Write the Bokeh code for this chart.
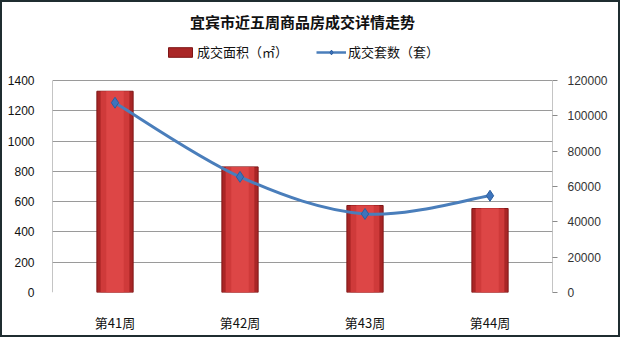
from bokeh.plotting import figure
from bokeh.models import Range1d, LinearAxis, FixedTicker, Legend, LegendItem, ColumnDataSource, BasicTickFormatter
from bokeh.embed import file_html
from bokeh.resources import INLINE

weeks = ["第41周", "第42周", "第43周", "第44周"]
area = [1330, 830, 575, 555]
units = [107500, 65500, 44500, 54800]
left_ticks = [0, 200, 400, 600, 800, 1000, 1200, 1400]
right_ticks = [0, 20000, 40000, 60000, 80000, 100000, 120000]

xs = list(range(1, len(weeks) + 1))
FONT = "Noto Sans CJK SC"

W, H = 620, 337
BL, BR, BT, BB = 50, 70, 30, 47
FH = H - BT - BB            # frame height (includes legend strip)
VIS_TOP = 74                # y (px) of visible plot top within figure
VIS_H = H - BB - VIS_TOP    # visible plot height
scale = FH / VIS_H
lmax = max(left_ticks)
rmax = max(right_ticks)

p = figure(width=W, height=H, output_backend="svg", toolbar_location=None,
           x_range=Range1d(0.5, len(xs) + 0.5), y_range=Range1d(0, lmax * scale),
           min_border_left=BL, min_border_right=BR, min_border_top=BT, min_border_bottom=BB)
p.styles = {"border": "2px solid #1f2d30"}
p.extra_y_ranges = {"right": Range1d(0, rmax * scale)}

p.title.text = "宜宾市近五周商品房成交详情走势"
p.title.align = "center"
p.title.text_font = FONT
p.title.text_font_size = "15px"
p.title.text_font_style = "bold"
p.title.text_color = "#111111"
p.title.standoff = 12

p.outline_line_color = None
p.background_fill_color = "white"
p.xgrid.grid_line_color = None
p.ygrid.grid_line_color = "#9a9a9a"
p.ygrid.ticker = FixedTicker(ticks=left_ticks)

# plot-area side borders
xl, xr = p.x_range.start, p.x_range.end
p.segment(x0=[xl, xr], y0=[0, 0], x1=[xl, xr], y1=[lmax, lmax], line_color="#8a8a8a", line_width=1)

# bars (layered for shading)
src = ColumnDataSource(dict(x=xs, area=area))
bar = p.vbar(x="x", top="area", width=0.29, source=src, fill_color="#a92626", line_color="#7e1616")
p.vbar(x="x", top="area", width=0.23, source=src, fill_color="#cf3a3a", line_color=None)
p.vbar(x="x", top="area", width=0.14, source=src, fill_color="#dd4646", line_color=None)

# smooth line through the unit counts on the right axis
n = len(xs)
x0, y0, x1, y1, cx0, cy0, cx1, cy1 = [], [], [], [], [], [], [], []
for i in range(n - 1):
    pm = max(i - 1, 0)
    pn = min(i + 2, n - 1)
    x0.append(xs[i]); y0.append(units[i])
    x1.append(xs[i + 1]); y1.append(units[i + 1])
    cx0.append(xs[i] + (xs[i + 1] - xs[pm]) / 6)
    cy0.append(units[i] + (units[i + 1] - units[pm]) / 6)
    cx1.append(xs[i + 1] - (xs[pn] - xs[i]) / 6)
    cy1.append(units[i + 1] - (units[pn] - units[i]) / 6)
p.bezier(x0=x0, y0=y0, x1=x1, y1=y1, cx0=cx0, cy0=cy0, cx1=cx1, cy1=cy1,
         line_color="#4a7ebb", line_width=3, y_range_name="right")
nan = float("nan")
dummy = p.line(x=[nan, nan], y=[nan, nan], line_color="#4a7ebb", line_width=2.5, y_range_name="right")
pts = p.scatter(x=xs, y=units, marker="diamond", size=11, fill_color="#3d74bd",
                line_color="#2d5f9e", y_range_name="right")

# axes
xa = p.xaxis[0]
xa.ticker = FixedTicker(ticks=xs)
xa.major_label_overrides = {x: w for x, w in zip(xs, weeks)}
xa.axis_line_color = None
xa.major_tick_line_color = None
xa.minor_tick_line_color = None
xa.major_label_standoff = 14
xa.major_label_text_font = FONT
xa.major_label_text_font_size = "13px"
xa.major_label_text_color = "#111111"

ya = p.yaxis[0]
ya.ticker = FixedTicker(ticks=left_ticks)
ya.axis_line_color = None
ya.major_tick_line_color = None
ya.minor_tick_line_color = None
ya.major_label_standoff = 12
ya.major_label_text_font = "Liberation Sans"
ya.major_label_text_font_size = "12px"
ya.major_label_text_color = "#111111"

ra = LinearAxis(y_range_name="right", ticker=FixedTicker(ticks=right_ticks),
                formatter=BasicTickFormatter(use_scientific=False))
ra.axis_line_color = None
ra.major_tick_line_color = "#8a8a8a"
ra.major_tick_in = 0
ra.major_tick_out = 5
ra.minor_tick_line_color = None
ra.major_label_standoff = 10
ra.major_label_text_font = "Liberation Sans"
ra.major_label_text_font_size = "12px"
ra.major_label_text_color = "#333333"
p.add_layout(ra, "right")

legend = Legend(items=[LegendItem(label="成交面积（㎡）", renderers=[bar]),
                       LegendItem(label="成交套数（套）", renderers=[dummy, pts])],
                orientation="horizontal", location=(113, FH - 29),
                label_text_font=FONT, label_text_font_size="13px", label_text_color="#111111",
                glyph_width=30, glyph_height=12, spacing=28, border_line_color=None,
                background_fill_alpha=0, margin=0, padding=4, label_standoff=2)
p.add_layout(legend, "center")

open("out.html", "w").write(file_html(p, INLINE))
